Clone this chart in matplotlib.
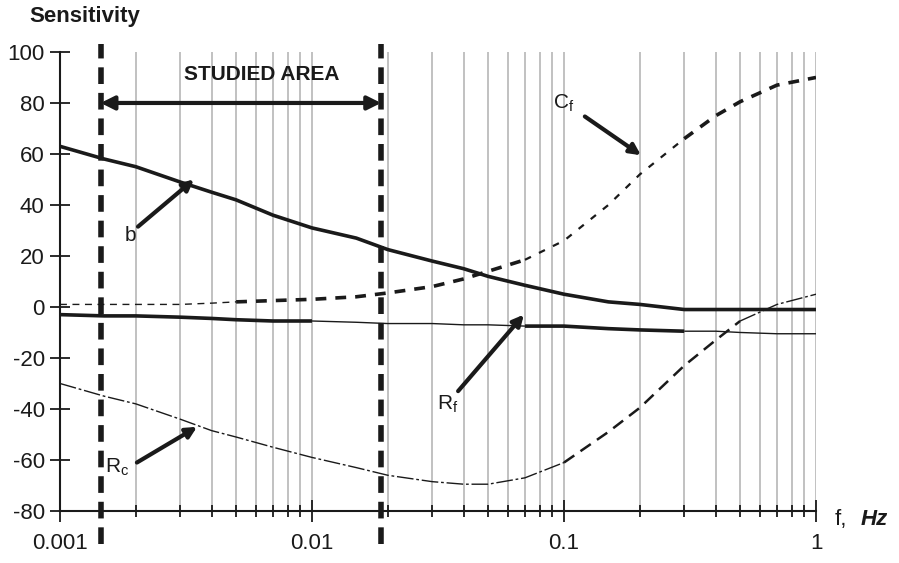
import numpy as np
import matplotlib.pyplot as plt
from matplotlib.ticker import FixedLocator, NullFormatter

plt.rcParams['font.family'] = ['Liberation Sans', 'DejaVu Sans']

# Frequencies (Hz) and sensitivity values
freq = [0.001, 0.0015, 0.002, 0.003, 0.004, 0.005, 0.007, 0.01, 0.015, 0.02,
        0.03, 0.04, 0.05, 0.07, 0.1, 0.15, 0.2, 0.3, 0.4, 0.5, 0.7, 1.0]
b = [63, 58, 55, 49, 45, 42, 36, 31, 27, 22.5,
     18, 15, 12, 8.5, 5, 2, 1, -1, -1, -1, -1, -1]
cf = [1, 1, 1, 1, 1.5, 2, 2.5, 3, 4, 5.5,
      8, 11, 14, 18.5, 26, 40, 52, 66, 75, 80.5, 87, 90]
rf = [-3, -3.5, -3.5, -4, -4.5, -5, -5.5, -5.5, -6, -6.5,
      -6.5, -7, -7, -7.5, -7.5, -8.5, -9, -9.5, -9.5, -10, -10.5, -10.5]
rc = [-30, -35, -38, -44, -48.5, -51, -55, -59, -63, -66,
      -68.5, -69.5, -69.5, -67, -61, -49, -39.5, -23, -13, -5.5, 1, 5]

studied = [0.00145, 0.0188]
yticks = [100, 80, 60, 40, 20, 0, -20, -40, -60, -80]
xmajor = [0.001, 0.01, 0.1, 1]
xlabels = ['0.001', '0.01', '0.1', '1']

freq = np.array(freq)
ink = '#1a1a1a'

fig = plt.figure(figsize=(8.99, 5.63), dpi=100)
ax = fig.add_axes([0.0667, 0.0924, 0.841, 0.8153])
ax.set_xscale('log')
ax.set_xlim(0.001, 1)
ax.set_ylim(-80, 100)


def seg(y, lo, hi, **kw):
    m = (freq >= lo) & (freq <= hi)
    ax.plot(freq[m], np.array(y)[m], color=ink, solid_capstyle='butt', **kw)


# b
seg(b, 0.001, 1, lw=2.6)
# Rf: thick / thin alternating
seg(rf, 0.001, 0.01, lw=2.6)
seg(rf, 0.01, 0.07, lw=1.0)
seg(rf, 0.07, 0.3, lw=2.6)
seg(rf, 0.3, 1, lw=1.0)
# Cf dashed
seg(cf, 0.001, 0.005, lw=1.0, linestyle=(0, (5, 4)))
seg(cf, 0.005, 0.07, lw=2.6, linestyle=(0, (3, 2.5)))
seg(cf, 0.07, 0.3, lw=1.6, linestyle=(0, (3, 4)))
seg(cf, 0.3, 1, lw=2.6, linestyle=(0, (3, 2.5)))
# Rc dash-dot / dashed
seg(rc, 0.001, 0.1, lw=1.0, linestyle=(0, (12, 2, 2, 2)))
seg(rc, 0.1, 0.5, lw=1.8, linestyle=(0, (5, 3)))
seg(rc, 0.5, 1, lw=1.0, linestyle=(0, (12, 2, 2, 2)))

# studied area boundaries
for xv in studied:
    ax.plot([xv, xv], [-93, 103], color=ink, lw=4, linestyle=(0, (3, 1.6)),
            clip_on=False, zorder=5)

ax.annotate('', xy=(studied[0], 80), xytext=(studied[1], 80),
            arrowprops=dict(arrowstyle='<|-|>', color=ink, lw=3,
                            mutation_scale=20, shrinkA=0, shrinkB=0))
ax.text(0.0063, 91, 'STUDIED AREA', fontsize=15, fontweight='bold',
        color=ink, ha='center', va='center')

arrow = dict(arrowstyle='-|>', color=ink, lw=3, mutation_scale=16,
             shrinkA=0, shrinkB=0)
ax.annotate('', xy=(0.0034, 50), xytext=(0.00204, 31.5), arrowprops=arrow)
ax.text(0.0019, 28, 'b', fontsize=15, color=ink, ha='center', va='center')
ax.annotate('', xy=(0.202, 59.5), xytext=(0.121, 74.7), arrowprops=arrow)
ax.text(0.1, 80, r'C$_\mathregular{f}$', fontsize=15, color=ink,
        ha='center', va='center')
ax.annotate('', xy=(0.0693, -3), xytext=(0.038, -33), arrowprops=arrow)
ax.text(0.0345, -38, r'R$_\mathregular{f}$', fontsize=15, color=ink,
        ha='center', va='center')
ax.annotate('', xy=(0.0035, -47), xytext=(0.00202, -61), arrowprops=arrow)
ax.text(0.00168, -63, r'R$_\mathregular{c}$', fontsize=15, color=ink,
        ha='center', va='center')

# axes styling
for s in ['top', 'right']:
    ax.spines[s].set_visible(False)
for s in ['left', 'bottom']:
    ax.spines[s].set_linewidth(1.5)
    ax.spines[s].set_color(ink)

ax.set_yticks(yticks)
ax.set_yticklabels([str(v) for v in yticks])
ax.tick_params(axis='y', direction='inout', length=14, width=1.3,
               labelsize=16, colors=ink, pad=4)

minors = [m * 10.0 ** e for e in (-3, -2, -1) for m in range(2, 10)]
ax.xaxis.set_major_locator(FixedLocator(xmajor))
ax.set_xticklabels(xlabels)
ax.xaxis.set_minor_locator(FixedLocator(minors))
ax.xaxis.set_minor_formatter(NullFormatter())
ax.tick_params(axis='x', which='major', direction='inout', length=16,
               width=1.3, labelsize=16, colors=ink, pad=8)
ax.tick_params(axis='x', which='minor', direction='inout', length=9,
               width=1.3, colors=ink)

for xv in minors + xmajor[1:]:
    ax.axvline(xv, color='#b0b0b0', lw=1.1, zorder=0)

fig.text(0.033, 0.97, 'Sensitivity', fontsize=16, fontweight='bold',
         color=ink, va='center')
fig.text(0.928, 0.078, 'f,', fontsize=16, color=ink, va='center')
fig.text(0.957, 0.078, 'Hz', fontsize=16, fontweight='bold',
         fontstyle='italic', color=ink, va='center')

fig.savefig('out.png', dpi=100)
